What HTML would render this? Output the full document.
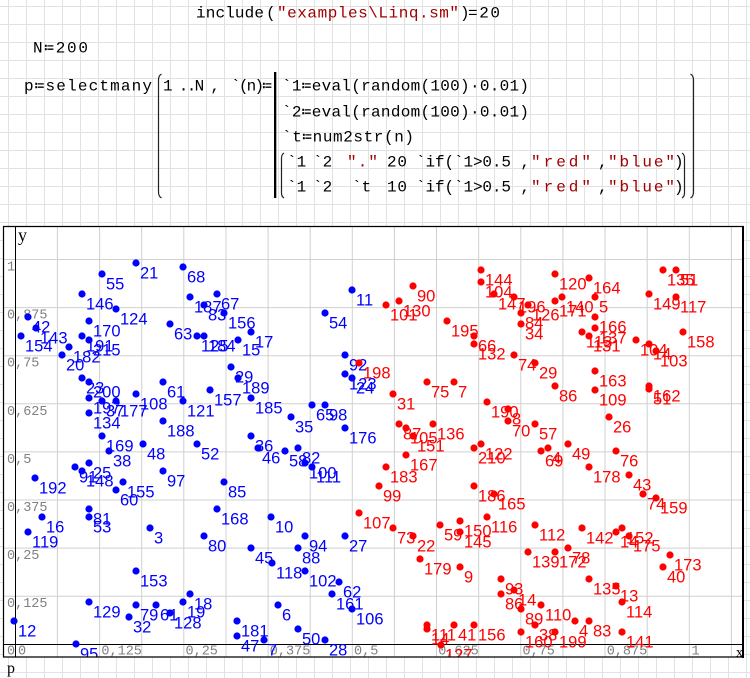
<!DOCTYPE html>
<html><head><meta charset="utf-8"><style>
html,body{margin:0;padding:0;background:#fff;width:750px;height:678px;overflow:hidden}
svg{display:block}
.m{font-family:"Liberation Mono","DejaVu Sans Mono",monospace;font-size:16px;fill:#000}
.r{fill:#a00000}
.tk{font-family:"Liberation Mono",monospace;font-size:13.5px;fill:#808080}
.lb{font-family:"Liberation Sans",sans-serif;font-size:16.5px}
.ax{font-family:"Liberation Serif",serif;fill:#000}
</style></head><body>
<svg width="750" height="678" viewBox="0 0 750 678" xmlns="http://www.w3.org/2000/svg">
<defs>
<pattern id="ws" x="8" y="6" width="18" height="18" patternUnits="userSpaceOnUse">
<path d="M0.5 0V18M0 0.5H18" stroke="#e2e2e2" stroke-width="1" fill="none"/>
</pattern>
<clipPath id="pc"><rect x="3" y="226" width="740" height="431"/></clipPath>
</defs>
<rect x="0" y="0" width="750" height="678" fill="#fff"/>
<rect x="0" y="0" width="750" height="678" fill="url(#ws)"/>

<!-- top formulas -->
<text class="m" x="196" y="17.5" textLength="68" lengthAdjust="spacing">include</text>
<text class="m" x="266" y="17.5" fill="#333">(</text>
<text class="m r" x="277" y="17.5" textLength="182" lengthAdjust="spacing">"examples\Linq.sm"</text>
<text class="m" x="460" y="17.5" fill="#333">)</text>
<text class="m" x="468" y="17.5" textLength="32" lengthAdjust="spacing">=20</text>

<text class="m" x="33" y="52.5" textLength="55" lengthAdjust="spacing">N≔200</text>

<text class="m" x="24" y="90.5" textLength="128" lengthAdjust="spacing">p≔selectmany</text>
<path d="M161.5 74 Q158.5 75.5 158.5 80 V192 Q158.5 196.5 161.5 198" stroke="#222" stroke-width="1.2" fill="none"/>
<text class="m" x="163" y="90.5" textLength="57" lengthAdjust="spacing">1 ..N ,</text>
<text class="m" x="231" y="90.5" textLength="41" lengthAdjust="spacing">`(n)≔</text>
<rect x="274" y="72" width="2.3" height="126" fill="#000"/>
<text class="m" x="282" y="90.5" textLength="247" lengthAdjust="spacing">`1≔eval(random(100)·0.01)</text>
<text class="m" x="282" y="116.5" textLength="247" lengthAdjust="spacing">`2≔eval(random(100)·0.01)</text>
<text class="m" x="282" y="141.5" textLength="132" lengthAdjust="spacing">`t≔num2str(n)</text>
<path d="M284 153 Q281.5 154.5 281.5 158 V193 Q281.5 196.5 284 198" stroke="#222" stroke-width="1.2" fill="none"/>
<path d="M682 153 Q684.5 154.5 684.5 158 V193 Q684.5 196.5 682 198" stroke="#222" stroke-width="1.2" fill="none"/>
<path d="M690.5 74 Q693.5 75.5 693.5 80 V192 Q693.5 196.5 690.5 198" stroke="#222" stroke-width="1.2" fill="none"/>

<text class="m" x="287" y="166.5">`1</text>
<text class="m" x="313" y="166.5">`2</text>
<text class="m r" x="347" y="166.5" textLength="31" lengthAdjust="spacing">"."</text>
<text class="m" x="387" y="166.5" textLength="20" lengthAdjust="spacing">20</text>
<text class="m" x="416" y="166.5" textLength="114" lengthAdjust="spacing">`if(`1&gt;0.5 ,</text>
<text class="m r" x="531" y="166.5" textLength="60" lengthAdjust="spacing">"red"</text>
<text class="m" x="598" y="166.5">,</text>
<text class="m r" x="608" y="166.5" textLength="67" lengthAdjust="spacing">"blue"</text>
<text class="m" x="674" y="166.5" fill="#333">)</text>

<text class="m" x="287" y="191.5">`1</text>
<text class="m" x="313" y="191.5">`2</text>
<text class="m" x="352" y="191.5">`t</text>
<text class="m" x="387" y="191.5" textLength="20" lengthAdjust="spacing">10</text>
<text class="m" x="416" y="191.5" textLength="114" lengthAdjust="spacing">`if(`1&gt;0.5 ,</text>
<text class="m r" x="531" y="191.5" textLength="60" lengthAdjust="spacing">"red"</text>
<text class="m" x="598" y="191.5">,</text>
<text class="m r" x="608" y="191.5" textLength="67" lengthAdjust="spacing">"blue"</text>
<text class="m" x="674" y="191.5" fill="#333">)</text>

<!-- plot -->
<rect x="3" y="226" width="740" height="431" fill="#fff"/>
<g stroke="#d0d0d0" stroke-width="1">
<path d="M57.4 226V657M99.6 226V657M141.7 226V657M183.8 226V657M226 226V657M268.1 226V657M310.2 226V657M352.3 226V657M394.4 226V657M436.5 226V657M478.7 226V657M520.8 226V657M562.9 226V657M605 226V657M647.2 226V657M689.3 226V657M731.4 226V657"/>
<path d="M3 596.2H743M3 548.1H743M3 500H743M3 451.9H743M3 403.8H743M3 355.7H743M3 307.6H743M3 259.5H743"/>
</g>
<g class="tk">
<text x="7" y="270.5">1</text>
<text x="7" y="318.6">0,875</text>
<text x="7" y="366.7">0,75</text>
<text x="7" y="414.8">0,625</text>
<text x="7" y="462.9">0,5</text>
<text x="7" y="511">0,375</text>
<text x="7" y="559.1">0,25</text>
<text x="7" y="607.2">0,125</text>
<text x="7" y="654.5">0</text>
<text x="18" y="654.5">0</text>
<text x="101.4" y="654.5">0,125</text>
<text x="185.5" y="654.5">0,25</text>
<text x="269.8" y="654.5">0,375</text>
<text x="354" y="654.5">0,5</text>
<text x="438.2" y="654.5">0,625</text>
<text x="522.5" y="654.5">0,75</text>
<text x="606.7" y="654.5">0,875</text>
<text x="691.5" y="654.5">1</text>
</g>
<path d="M15.5 226V657M3 644.5H743" stroke="#000" stroke-width="1"/>

<g clip-path="url(#pc)">
<g fill="#0000ff">
<circle cx="136" cy="263" r="3.6"/><circle cx="183" cy="267" r="3.6"/><circle cx="102" cy="274" r="3.6"/><circle cx="82" cy="294" r="3.6"/><circle cx="190" cy="297" r="3.6"/><circle cx="217" cy="294" r="3.6"/><circle cx="204" cy="305" r="3.6"/><circle cx="116" cy="309" r="3.6"/><circle cx="28" cy="317" r="3.6"/><circle cx="224" cy="313" r="3.6"/><circle cx="89" cy="321" r="3.6"/><circle cx="170" cy="324" r="3.6"/><circle cx="36" cy="328" r="3.6"/><circle cx="21" cy="336" r="3.6"/><circle cx="82" cy="336" r="3.6"/><circle cx="89" cy="340" r="3.6"/><circle cx="197" cy="336" r="3.6"/><circle cx="204" cy="336" r="3.6"/><circle cx="238" cy="340" r="3.6"/><circle cx="251" cy="332" r="3.6"/><circle cx="69" cy="347" r="3.6"/><circle cx="62" cy="355" r="3.6"/><circle cx="82" cy="378" r="3.6"/><circle cx="89" cy="382" r="3.6"/><circle cx="163" cy="382" r="3.6"/><circle cx="231" cy="367" r="3.6"/><circle cx="238" cy="378" r="3.6"/><circle cx="210" cy="390" r="3.6"/><circle cx="136" cy="394" r="3.6"/><circle cx="183" cy="401" r="3.6"/><circle cx="89" cy="398" r="3.6"/><circle cx="102" cy="401" r="3.6"/><circle cx="116" cy="401" r="3.6"/><circle cx="89" cy="413" r="3.6"/><circle cx="251" cy="398" r="3.6"/><circle cx="163" cy="421" r="3.6"/><circle cx="102" cy="436" r="3.6"/><circle cx="143" cy="444" r="3.6"/><circle cx="197" cy="444" r="3.6"/><circle cx="109" cy="451" r="3.6"/><circle cx="89" cy="463" r="3.6"/><circle cx="75" cy="467" r="3.6"/><circle cx="82" cy="471" r="3.6"/><circle cx="35" cy="478" r="3.6"/><circle cx="123" cy="482" r="3.6"/><circle cx="116" cy="490" r="3.6"/><circle cx="163" cy="471" r="3.6"/><circle cx="224" cy="482" r="3.6"/><circle cx="89" cy="509" r="3.6"/><circle cx="89" cy="517" r="3.6"/><circle cx="42" cy="517" r="3.6"/><circle cx="28" cy="532" r="3.6"/><circle cx="150" cy="528" r="3.6"/><circle cx="217" cy="509" r="3.6"/><circle cx="204" cy="536" r="3.6"/><circle cx="136" cy="571" r="3.6"/><circle cx="14" cy="621" r="3.6"/><circle cx="76" cy="644" r="3.6"/><circle cx="89" cy="602" r="3.6"/><circle cx="129" cy="617" r="3.6"/><circle cx="136" cy="605" r="3.6"/><circle cx="156" cy="605" r="3.6"/><circle cx="170" cy="613" r="3.6"/><circle cx="183" cy="602" r="3.6"/><circle cx="190" cy="594" r="3.6"/><circle cx="237" cy="621" r="3.6"/><circle cx="237" cy="636" r="3.6"/><circle cx="264" cy="640" r="3.6"/><circle cx="278" cy="605" r="3.6"/><circle cx="298" cy="629" r="3.6"/><circle cx="325" cy="640" r="3.6"/><circle cx="272" cy="563" r="3.6"/><circle cx="305" cy="571" r="3.6"/><circle cx="339" cy="582" r="3.6"/><circle cx="332" cy="594" r="3.6"/><circle cx="352" cy="609" r="3.6"/><circle cx="251" cy="436" r="3.6"/><circle cx="258" cy="448" r="3.6"/><circle cx="285" cy="451" r="3.6"/><circle cx="298" cy="448" r="3.6"/><circle cx="305" cy="463" r="3.6"/><circle cx="312" cy="467" r="3.6"/><circle cx="345" cy="428" r="3.6"/><circle cx="312" cy="405" r="3.6"/><circle cx="325" cy="405" r="3.6"/><circle cx="291" cy="417" r="3.6"/><circle cx="345" cy="355" r="3.6"/><circle cx="345" cy="374" r="3.6"/><circle cx="352" cy="378" r="3.6"/><circle cx="352" cy="290" r="3.6"/><circle cx="325" cy="313" r="3.6"/><circle cx="271" cy="517" r="3.6"/><circle cx="305" cy="536" r="3.6"/><circle cx="298" cy="548" r="3.6"/><circle cx="251" cy="548" r="3.6"/><circle cx="345" cy="536" r="3.6"/>
</g>
<g fill="#0000ff" class="lb">
<text x="140" y="278.5">21</text><text x="187" y="282.5">68</text><text x="106" y="289.5">55</text><text x="86" y="309.5">146</text><text x="194" y="312.5">187</text><text x="221" y="309.5">67</text><text x="208" y="320.5">83</text><text x="120" y="324.5">124</text><text x="32" y="332.5">42</text><text x="228" y="328.5">156</text><text x="93" y="336.5">170</text><text x="174" y="339.5">63</text><text x="40" y="343.5">143</text><text x="25" y="351.5">154</text><text x="86" y="351.5">191</text><text x="93" y="355.5">215</text><text x="201" y="351.5">125</text><text x="208" y="351.5">184</text><text x="242" y="355.5">15</text><text x="255" y="347.5">17</text><text x="73" y="362.5">182</text><text x="66" y="370.5">20</text><text x="86" y="393.5">23</text><text x="93" y="397.5">200</text><text x="167" y="397.5">61</text><text x="235" y="382.5">29</text><text x="242" y="393.5">189</text><text x="214" y="405.5">157</text><text x="140" y="409.5">108</text><text x="187" y="416.5">121</text><text x="93" y="413.5">197</text><text x="106" y="416.5">37</text><text x="120" y="416.5">177</text><text x="93" y="428.5">134</text><text x="255" y="413.5">185</text><text x="167" y="436.5">188</text><text x="106" y="451.5">169</text><text x="147" y="459.5">48</text><text x="201" y="459.5">52</text><text x="113" y="466.5">38</text><text x="93" y="478.5">25</text><text x="79" y="482.5">91</text><text x="86" y="486.5">148</text><text x="39" y="493.5">192</text><text x="127" y="497.5">155</text><text x="120" y="505.5">60</text><text x="167" y="486.5">97</text><text x="228" y="497.5">85</text><text x="93" y="524.5">81</text><text x="93" y="532.5">53</text><text x="46" y="532.5">16</text><text x="32" y="547.5">119</text><text x="154" y="543.5">3</text><text x="221" y="524.5">168</text><text x="208" y="551.5">80</text><text x="140" y="586.5">153</text><text x="18" y="636.5">12</text><text x="80" y="659.5">95</text><text x="93" y="617.5">129</text><text x="133" y="632.5">32</text><text x="140" y="620.5">79</text><text x="160" y="620.5">61</text><text x="174" y="628.5">128</text><text x="187" y="617.5">19</text><text x="194" y="609.5">18</text><text x="241" y="636.5">181</text><text x="241" y="651.5">47</text><text x="268" y="655.5">7</text><text x="282" y="620.5">6</text><text x="302" y="644.5">50</text><text x="329" y="655.5">28</text><text x="276" y="578.5">118</text><text x="309" y="586.5">102</text><text x="343" y="597.5">62</text><text x="336" y="609.5">161</text><text x="356" y="624.5">106</text><text x="255" y="451.5">36</text><text x="262" y="463.5">46</text><text x="289" y="466.5">58</text><text x="302" y="463.5">82</text><text x="309" y="478.5">100</text><text x="316" y="482.5">111</text><text x="349" y="443.5">176</text><text x="316" y="420.5">65</text><text x="329" y="420.5">98</text><text x="295" y="432.5">35</text><text x="349" y="370.5">92</text><text x="349" y="389.5">123</text><text x="356" y="393.5">24</text><text x="356" y="305.5">11</text><text x="329" y="328.5">54</text><text x="275" y="532.5">10</text><text x="309" y="551.5">94</text><text x="302" y="563.5">88</text><text x="255" y="563.5">45</text><text x="349" y="551.5">27</text>
</g>

<g fill="#ff0000">
<circle cx="359" cy="363" r="3.6"/><circle cx="413" cy="286" r="3.6"/><circle cx="386" cy="305" r="3.6"/><circle cx="399" cy="301" r="3.6"/><circle cx="447" cy="321" r="3.6"/><circle cx="474" cy="336" r="3.6"/><circle cx="474" cy="344" r="3.6"/><circle cx="427" cy="382" r="3.6"/><circle cx="454" cy="382" r="3.6"/><circle cx="393" cy="394" r="3.6"/><circle cx="399" cy="424" r="3.6"/><circle cx="406" cy="428" r="3.6"/><circle cx="413" cy="436" r="3.6"/><circle cx="433" cy="424" r="3.6"/><circle cx="386" cy="467" r="3.6"/><circle cx="406" cy="455" r="3.6"/><circle cx="379" cy="486" r="3.6"/><circle cx="359" cy="513" r="3.6"/><circle cx="393" cy="528" r="3.6"/><circle cx="413" cy="536" r="3.6"/><circle cx="440" cy="525" r="3.6"/><circle cx="460" cy="521" r="3.6"/><circle cx="460" cy="532" r="3.6"/><circle cx="420" cy="559" r="3.6"/><circle cx="460" cy="567" r="3.6"/><circle cx="487" cy="517" r="3.6"/><circle cx="474" cy="448" r="3.6"/><circle cx="481" cy="444" r="3.6"/><circle cx="474" cy="486" r="3.6"/><circle cx="494" cy="494" r="3.6"/><circle cx="535" cy="525" r="3.6"/><circle cx="582" cy="528" r="3.6"/><circle cx="528" cy="552" r="3.6"/><circle cx="555" cy="552" r="3.6"/><circle cx="568" cy="548" r="3.6"/><circle cx="616" cy="532" r="3.6"/><circle cx="622" cy="528" r="3.6"/><circle cx="629" cy="536" r="3.6"/><circle cx="670" cy="555" r="3.6"/><circle cx="663" cy="567" r="3.6"/><circle cx="629" cy="475" r="3.6"/><circle cx="643" cy="494" r="3.6"/><circle cx="656" cy="498" r="3.6"/><circle cx="589" cy="467" r="3.6"/><circle cx="616" cy="451" r="3.6"/><circle cx="568" cy="444" r="3.6"/><circle cx="541" cy="451" r="3.6"/><circle cx="548" cy="448" r="3.6"/><circle cx="535" cy="424" r="3.6"/><circle cx="508" cy="421" r="3.6"/><circle cx="508" cy="409" r="3.6"/><circle cx="487" cy="402" r="3.6"/><circle cx="555" cy="386" r="3.6"/><circle cx="595" cy="390" r="3.6"/><circle cx="595" cy="371" r="3.6"/><circle cx="609" cy="417" r="3.6"/><circle cx="649" cy="386" r="3.6"/><circle cx="649" cy="389" r="3.6"/><circle cx="514" cy="355" r="3.6"/><circle cx="535" cy="363" r="3.6"/><circle cx="521" cy="313" r="3.6"/><circle cx="521" cy="324" r="3.6"/><circle cx="528" cy="305" r="3.6"/><circle cx="494" cy="294" r="3.6"/><circle cx="514" cy="297" r="3.6"/><circle cx="481" cy="270" r="3.6"/><circle cx="481" cy="282" r="3.6"/><circle cx="555" cy="274" r="3.6"/><circle cx="589" cy="278" r="3.6"/><circle cx="555" cy="301" r="3.6"/><circle cx="562" cy="297" r="3.6"/><circle cx="595" cy="297" r="3.6"/><circle cx="595" cy="317" r="3.6"/><circle cx="595" cy="328" r="3.6"/><circle cx="582" cy="332" r="3.6"/><circle cx="589" cy="336" r="3.6"/><circle cx="636" cy="340" r="3.6"/><circle cx="649" cy="344" r="3.6"/><circle cx="656" cy="351" r="3.6"/><circle cx="649" cy="294" r="3.6"/><circle cx="676" cy="297" r="3.6"/><circle cx="663" cy="270" r="3.6"/><circle cx="676" cy="270" r="3.6"/><circle cx="683" cy="332" r="3.6"/><circle cx="501" cy="579" r="3.6"/><circle cx="501" cy="594" r="3.6"/><circle cx="514" cy="590" r="3.6"/><circle cx="521" cy="609" r="3.6"/><circle cx="541" cy="605" r="3.6"/><circle cx="575" cy="621" r="3.6"/><circle cx="589" cy="621" r="3.6"/><circle cx="622" cy="602" r="3.6"/><circle cx="616" cy="586" r="3.6"/><circle cx="589" cy="579" r="3.6"/><circle cx="622" cy="632" r="3.6"/><circle cx="521" cy="632" r="3.6"/><circle cx="535" cy="625" r="3.6"/><circle cx="555" cy="632" r="3.6"/><circle cx="427" cy="625" r="3.6"/><circle cx="427" cy="629" r="3.6"/><circle cx="454" cy="625" r="3.6"/><circle cx="474" cy="625" r="3.6"/><circle cx="441" cy="645" r="3.6"/>
</g>
<g fill="#ff0000" class="lb">
<text x="363" y="378.5">198</text><text x="417" y="301.5">90</text><text x="390" y="320.5">101</text><text x="403" y="316.5">130</text><text x="451" y="336.5">195</text><text x="478" y="351.5">66</text><text x="478" y="359.5">132</text><text x="431" y="397.5">75</text><text x="458" y="397.5">7</text><text x="397" y="409.5">31</text><text x="403" y="439.5">87</text><text x="410" y="443.5">105</text><text x="417" y="451.5">151</text><text x="437" y="439.5">136</text><text x="390" y="482.5">183</text><text x="410" y="470.5">167</text><text x="383" y="501.5">99</text><text x="363" y="528.5">107</text><text x="397" y="543.5">73</text><text x="417" y="551.5">22</text><text x="444" y="540.5">59</text><text x="464" y="536.5">150</text><text x="464" y="547.5">145</text><text x="424" y="574.5">179</text><text x="464" y="582.5">9</text><text x="491" y="532.5">116</text><text x="478" y="463.5">210</text><text x="485" y="459.5">122</text><text x="478" y="501.5">186</text><text x="498" y="509.5">165</text><text x="539" y="540.5">112</text><text x="586" y="543.5">142</text><text x="532" y="567.5">139</text><text x="559" y="567.5">172</text><text x="572" y="563.5">78</text><text x="620" y="547.5">14</text><text x="626" y="543.5">152</text><text x="633" y="551.5">175</text><text x="674" y="570.5">173</text><text x="667" y="582.5">40</text><text x="633" y="490.5">43</text><text x="647" y="509.5">74</text><text x="660" y="513.5">159</text><text x="593" y="482.5">178</text><text x="620" y="466.5">76</text><text x="572" y="459.5">49</text><text x="545" y="466.5">69</text><text x="552" y="463.5">4</text><text x="539" y="439.5">57</text><text x="512" y="436.5">70</text><text x="512" y="424.5">8</text><text x="491" y="417.5">190</text><text x="559" y="401.5">86</text><text x="599" y="405.5">109</text><text x="599" y="386.5">163</text><text x="613" y="432.5">26</text><text x="653" y="401.5">162</text><text x="653" y="404.5">51</text><text x="518" y="370.5">74</text><text x="539" y="378.5">29</text><text x="525" y="328.5">84</text><text x="525" y="339.5">34</text><text x="532" y="320.5">126</text><text x="498" y="309.5">147</text><text x="518" y="312.5">196</text><text x="485" y="285.5">144</text><text x="485" y="297.5">104</text><text x="559" y="289.5">120</text><text x="593" y="293.5">164</text><text x="559" y="316.5">171</text><text x="566" y="312.5">140</text><text x="599" y="312.5">5</text><text x="599" y="332.5">166</text><text x="599" y="343.5">137</text><text x="586" y="347.5">113</text><text x="593" y="351.5">131</text><text x="640" y="355.5">104</text><text x="653" y="359.5">14</text><text x="660" y="366.5">103</text><text x="653" y="309.5">149</text><text x="680" y="312.5">117</text><text x="667" y="285.5">135</text><text x="680" y="285.5">51</text><text x="687" y="347.5">158</text><text x="505" y="594.5">93</text><text x="505" y="609.5">86</text><text x="518" y="605.5">14</text><text x="525" y="624.5">89</text><text x="545" y="620.5">110</text><text x="579" y="636.5">4</text><text x="593" y="636.5">83</text><text x="626" y="617.5">114</text><text x="620" y="601.5">13</text><text x="593" y="594.5">135</text><text x="626" y="647.5">141</text><text x="525" y="647.5">160</text><text x="539" y="640.5">38</text><text x="559" y="647.5">199</text><text x="431" y="640.5">111</text><text x="431" y="644.5">14</text><text x="458" y="640.5">41</text><text x="478" y="640.5">156</text><text x="445" y="660.5">127</text>
</g>
</g>

<!-- frame -->
<path d="M3.5 226V657.5M3 226.5H744M3 657H744" stroke="#000" stroke-width="1.2" fill="none"/>
<path d="M743 226V658" stroke="#000" stroke-width="2" fill="none"/>
<text class="ax" x="18" y="241" font-size="18">y</text>
<text class="ax" x="736" y="656.5" font-size="14">x</text>
<text class="ax" x="7" y="673" font-size="16">p</text>
</svg>
</body></html>
